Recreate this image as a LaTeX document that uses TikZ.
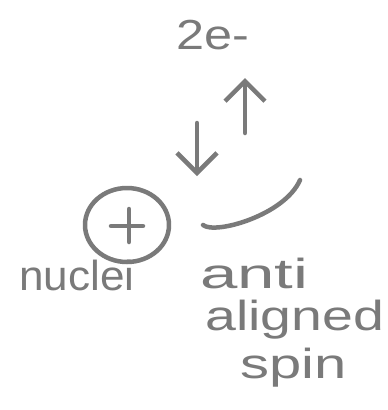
\documentclass[tikz,border=0pt]{standalone}
\usepackage{graphicx}
\usepackage{fontspec}
\setmainfont{Liberation Sans}
\usetikzlibrary{arrows.meta,shapes.geometric}
\definecolor{pen}{RGB}{122,122,122}
\newcommand{\wide}[2]{\scalebox{#1}[1]{#2}}
\begin{document}
\begin{tikzpicture}[x=1pt,y=-1pt,
  stroke/.style={draw=pen,line width=4.5pt,line cap=round,line join=round},
  spinarrow/.style={stroke,-{Straight Barb[length=20pt,width=40pt,line width=4.5pt]}},
  hand/.style={text=pen,inner sep=0pt,font=\fontsize{42}{44}\selectfont}]
  \useasboundingbox[fill=white] (0,0) rectangle (388,410);

  % electron pair label
  \node[hand,anchor=base] (pair) at (213,49) {\wide{1.2}{2e-}};

  % spin-up and spin-down electrons
  \coordinate (upS) at (245,133);
  \coordinate (upE) at (245,78);
  \draw[spinarrow] (upS) -- (upE);
  \coordinate (dnS) at (197,123);
  \coordinate (dnE) at (197,176);
  \draw[spinarrow] (dnS) -- (dnE);

  % nucleus with positive charge
  \node[stroke,ellipse,minimum width=84pt,minimum height=74pt,inner sep=0pt] (nuc) at (127,225) {};
  \coordinate (pl) at (111,226);
  \coordinate (pr) at (143,226);
  \coordinate (pt) at (129,209);
  \coordinate (pb) at (129,242);
  \draw[stroke] (pl) -- (pr);
  \draw[stroke] (pt) -- (pb);

  % pairing arc
  \coordinate (arcS) at (203,225);
  \coordinate (arcE) at (300,180);
  \draw[stroke] (arcS) .. controls (215,235) and (285,215) .. (arcE);

  % labels
  \node[hand,anchor=base west] (nuclei) at (19,290) {\wide{1.05}{nuclei}};
  \node[hand,anchor=base west] (anti) at (200,288) {\wide{1.6}{anti}};
  \node[hand,anchor=base west] (aligned) at (205,330) {\wide{1.32}{aligned}};
  \node[hand,anchor=base west] (spin) at (240,378) {\wide{1.38}{spin}};
\end{tikzpicture}
\end{document}
